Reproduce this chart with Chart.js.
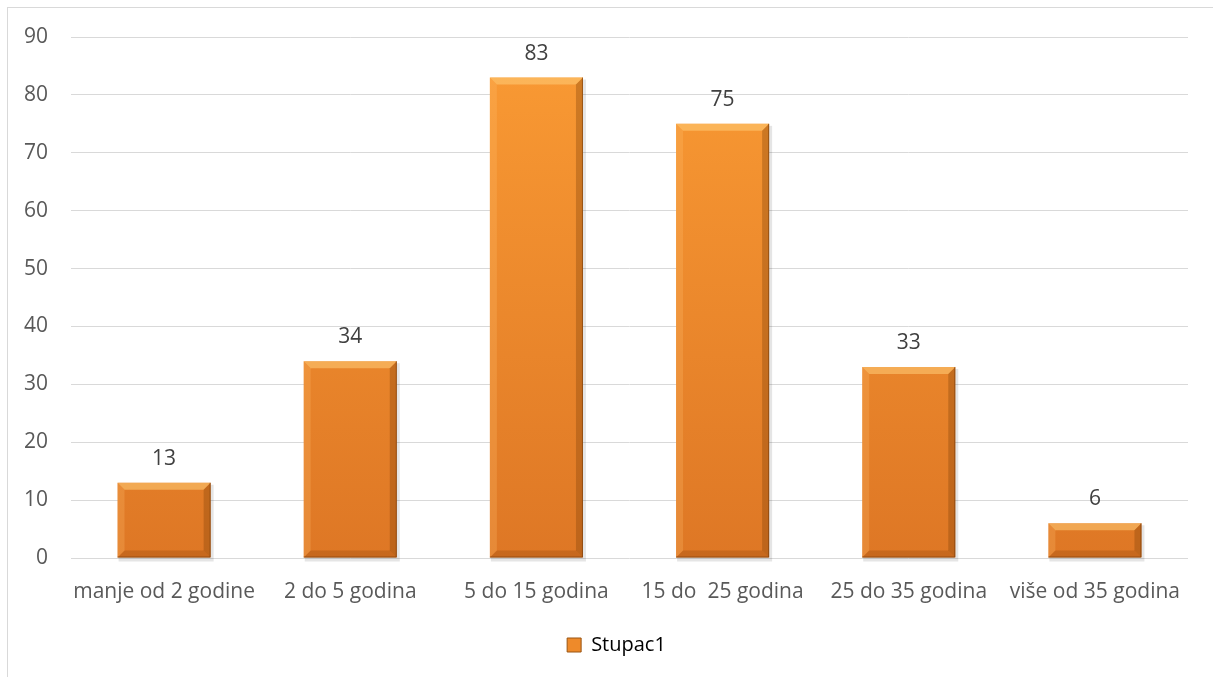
<!DOCTYPE html>
<html>
<head>
<meta charset="utf-8">
<script src="https://cdn.jsdelivr.net/npm/chart.js@4.4.1/dist/chart.umd.min.js"></script>
<style>
  html, body { margin: 0; padding: 0; background: #fff; }
  #wrap { position: relative; width: 1213px; height: 677px; }
  #frame { position: absolute; left: 7px; top: 7px; right: -2px; bottom: -2px; border: 1px solid #d9d9d9; }
  canvas { position: absolute; left: 0; top: 0; }
</style>
</head>
<body>
<div id="wrap">
  <div id="frame"></div>
  <canvas id="ageChart" width="1213" height="677"></canvas>
</div>
<script>
const categories = ['manje od 2 godine', '2 do 5 godina', '5 do 15 godina', '15 do  25 godina', '25 do 35 godina', 'više od 35 godina'];
const stupac1 = [13, 34, 83, 75, 33, 6];
const yTicks = [0, 10, 20, 30, 40, 50, 60, 70, 80, 90];

const textColor = '#595959';
const fontFamily = '"Open Sans", sans-serif';

// bevel + value labels drawn over the library's bar elements
const bevelPlugin = {
    id: 'bevel',
    afterLayout(chart) {
        // legend sits a bit right of centre in the original
        chart.legend.left += 19;
        chart.legend.right += 19;
    },
    beforeDatasetsDraw(chart) {
        const c = chart.ctx;
        chart.getDatasetMeta(0).data.forEach((bar) => {
            const l = bar.x - bar.width / 2;
            c.save();
            c.fillStyle = 'rgba(0,0,0,0.10)';
            c.fillRect(l + 1, bar.y + 2, bar.width + 2, bar.base - bar.y + 2);
            c.restore();
        });
    },
    afterDatasetsDraw(chart) {
        const c = chart.ctx;
        chart.getDatasetMeta(0).data.forEach((bar, i) => {
            const l = bar.x - bar.width / 2, r = bar.x + bar.width / 2;
            const t = bar.y, b = bar.base;
            const bv = Math.min(7, (b - t) / 2);
            c.save();
            // top
            c.fillStyle = 'rgba(255, 205, 120, 0.55)';
            c.beginPath(); c.moveTo(l, t); c.lineTo(r, t); c.lineTo(r - bv, t + bv); c.lineTo(l + bv, t + bv); c.closePath(); c.fill();
            // left
            c.fillStyle = 'rgba(255, 190, 110, 0.25)';
            c.beginPath(); c.moveTo(l, t); c.lineTo(l + bv, t + bv); c.lineTo(l + bv, b - bv); c.lineTo(l, b); c.closePath(); c.fill();
            // right
            c.fillStyle = 'rgba(130, 65, 10, 0.35)';
            c.beginPath(); c.moveTo(r, t); c.lineTo(r, b); c.lineTo(r - bv, b - bv); c.lineTo(r - bv, t + bv); c.closePath(); c.fill();
            // bottom
            c.fillStyle = 'rgba(140, 70, 10, 0.28)';
            c.beginPath(); c.moveTo(l, b); c.lineTo(r, b); c.lineTo(r - bv, b - bv); c.lineTo(l + bv, b - bv); c.closePath(); c.fill();
            // edge
            c.strokeStyle = 'rgba(110, 55, 10, 0.55)';
            c.lineWidth = 1;
            c.beginPath(); c.moveTo(r - 0.5, t); c.lineTo(r - 0.5, b - 0.5); c.lineTo(l, b - 0.5); c.stroke();
            // value
            c.fillStyle = '#404040';
            c.font = '21px ' + fontFamily;
            c.textAlign = 'center';
            c.textBaseline = 'middle';
            c.fillText(String(stupac1[i]), bar.x, t - 24);
            c.restore();
        });
    }
};

const ctx = document.getElementById('ageChart').getContext('2d');
const ageChart = new Chart(ctx, {
    type: 'bar',
    data: {
        labels: categories,
        datasets: [{
            label: 'Stupac1',
            data: stupac1,
            backgroundColor: (c) => {
                const area = c.chart.chartArea;
                if (!area) return '#F39130';
                const g = c.chart.ctx.createLinearGradient(0, area.top, 0, area.bottom);
                g.addColorStop(0, '#FA9B34');
                g.addColorStop(1, '#DE7725');
                return g;
            },
            borderWidth: 0,
            barPercentage: 0.5,
            categoryPercentage: 1
        }]
    },
    options: {
        responsive: false,
        animation: false,
        layout: { padding: { top: 37, right: 25, left: 7, bottom: 12 } },
        plugins: {
            legend: {
                position: 'bottom',
                labels: {
                    color: textColor,
                    font: { family: fontFamily, size: 20 },
                    boxWidth: 14,
                    boxHeight: 14,
                    padding: 20,
                    generateLabels: (chart) => [{
                        text: 'Stupac1', fillStyle: '#EE8A2A', strokeStyle: '#9A5512', lineWidth: 1, datasetIndex: 0
                    }]
                }
            },
            tooltip: { enabled: false }
        },
        scales: {
            x: {
                grid: { display: false },
                border: { display: false },
                ticks: { color: textColor, font: { family: fontFamily, size: 21 }, maxRotation: 0, padding: 13 },
                afterFit: (s) => { s.height = 57; }
            },
            y: {
                min: 0,
                max: 90,
                afterBuildTicks: (s) => { s.ticks = yTicks.map(v => ({ value: v })); },
                grid: { color: '#d9d9d9', lineWidth: 1, drawTicks: false },
                border: { display: false },
                ticks: { color: textColor, font: { family: fontFamily, size: 21 }, padding: 23 },
                afterFit: (s) => { s.width = 64; }
            }
        }
    },
    plugins: [bevelPlugin]
});
</script>
</body>
</html>
